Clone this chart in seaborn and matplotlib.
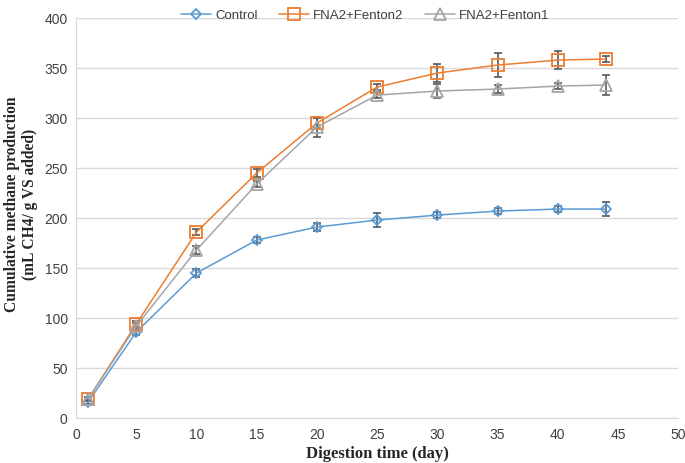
import numpy as np
import pandas as pd
import matplotlib
matplotlib.use('Agg')
import matplotlib.pyplot as plt
import seaborn as sns

# data
days = [1, 5, 10, 15, 20, 25, 30, 35, 40, 44]
control = [16, 86, 145, 178, 191, 198, 203, 207, 209, 209]
control_err = [2, 3, 4, 3, 4, 7, 3, 3, 3, 7]
fenton2 = [19, 94, 186, 245, 295, 331, 345, 353, 358, 359]
fenton2_err = [2, 3, 3, 4, 5, 3, 9, 12, 9, 3]
fenton1 = [19, 92, 168, 234, 291, 323, 327, 329, 332, 333]
fenton1_err = [2, 3, 4, 3, 10, 3, 7, 4, 3, 10]

series = ['Control', 'FNA2+Fenton2', 'FNA2+Fenton1']
colors = ['#5B9BD5', '#ED7D31', '#A5A5A5']
markers = ['D', 's', '^']
msizes = [5.5, 8.5, 8]

df = pd.DataFrame({
    'day': days * 3,
    'value': control + fenton2 + fenton1,
    'err': control_err + fenton2_err + fenton1_err,
    'series': np.repeat(series, len(days)),
})

sns.set_style('white')
plt.rcParams['font.family'] = ['Liberation Sans', 'DejaVu Sans']

fig, ax = plt.subplots(figsize=(6.85, 4.63), dpi=100)
fig.subplots_adjust(left=0.111, right=0.99, top=0.961, bottom=0.097)

for name, col, mk, ms in zip(series, colors, markers, msizes):
    sub = df[df['series'] == name]
    ax.errorbar(sub['day'], sub['value'], yerr=sub['err'], fmt='none',
                ecolor='#595959', elinewidth=1.2, capsize=3, capthick=1.2, zorder=3)
    sns.lineplot(data=sub, x='day', y='value', ax=ax, color=col, lw=1.1,
                 marker=mk, markersize=ms,
                 markerfacecolor='none', markeredgecolor=col, markeredgewidth=1.3,
                 label=name, zorder=4)

ax.set_xlim(0, 50)
ax.set_ylim(0, 400)
ax.set_xticks(range(0, 51, 5))
ax.set_yticks(range(0, 401, 50))
ax.yaxis.grid(True, color='#D9D9D9', lw=1)
ax.set_axisbelow(True)
ax.tick_params(axis='both', length=0, labelsize=10, colors='#404040')
ax.tick_params(axis='x', pad=7)
ax.tick_params(axis='y', pad=6)
for s in ['top', 'right']:
    ax.spines[s].set_visible(False)
for s in ['left', 'bottom']:
    ax.spines[s].set_color('#D9D9D9')

lab_font = dict(family=['Liberation Serif', 'DejaVu Serif'], fontweight='bold')
ax.set_xlabel('Digestion time (day)', labelpad=3, fontsize=12, **lab_font)
ax.set_ylabel('Cumulative methane production\n(mL CH4/ g VS added)', linespacing=1.15,
              fontsize=11.2, **lab_font)
ax.yaxis.set_label_coords(-0.063, 0.535)

ax.get_legend().remove()
handles, labels = ax.get_legend_handles_labels()
fig.legend(handles, labels, loc='upper center', bbox_to_anchor=(0.533, 1.005), ncol=3,
           frameon=False, fontsize=9.5, handlelength=2.3, handletextpad=0.3,
           columnspacing=1.6, labelcolor='#404040')

fig.savefig('out.png', dpi=100)
